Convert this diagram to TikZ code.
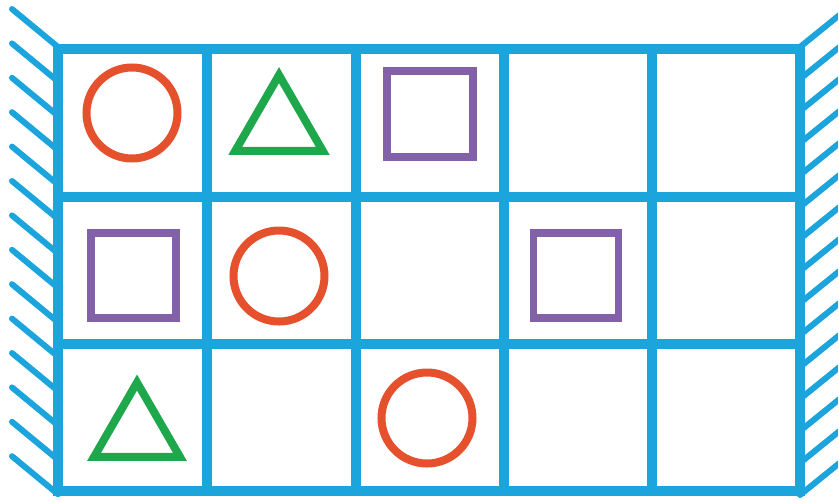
\documentclass[tikz,border=0pt]{standalone}
\usepackage{xcolor}
\usepackage{tikz}
\usetikzlibrary{shapes.geometric}
\definecolor{bleu}{HTML}{1BA5DC}
\definecolor{rouge}{HTML}{E5512C}
\definecolor{vert}{HTML}{1EA84B}
\definecolor{violet}{HTML}{8361A9}
\tikzset{
  grille/.style={draw=bleu, line width=9.5pt},
  hachure/.style={draw=bleu, line width=6pt, line cap=round},
  rond/.style={circle, draw=rouge, line width=8pt, minimum size=91pt,
    inner sep=0pt},
  carre/.style={rectangle, draw=violet, line width=7.5pt, minimum size=86pt,
    inner sep=0pt},
  triangle/.style={regular polygon, regular polygon sides=3, draw=vert,
    line width=8pt, minimum size=101pt, inner sep=0pt}
}
\begin{document}
\begin{tikzpicture}[x=1pt, y=-1pt]
    \useasboundingbox (0,0) rectangle (838,499);
    \clip (0,0) rectangle (838,499);

    % Murs hachures
    \foreach \k in {0,...,13}
      \draw[hachure] (58,{47+34.4*\k}) -- ++(-46,-38);
    \foreach \k in {0,...,14}
      \draw[hachure] (800,{47+32*\k}) -- ++(42,-34);

    % Grille 5 x 3
    \draw[grille] (58,49) rectangle (800,491);
    \foreach \x in {207,356,504,652}
      \draw[grille] (\x,49) -- (\x,491);
    \foreach \y in {197,344}
      \draw[grille] (58,\y) -- (800,\y);

    % Ligne 1
    \node[rond] (rond1) at (132,113) {};
    \node[triangle] (tri1) at (279,125.6) {};
    \node[carre] (carre1) at (430,114) {};

    % Ligne 2
    \node[carre, minimum size=85pt] (carre2) at (133.5,275.5) {};
    \node[rond] (rond2) at (279,276) {};
    \node[carre, minimum size=85pt] (carre3) at (576,275.5) {};

    % Ligne 3
    \node[triangle, minimum size=99pt] (tri2) at (137,432) {};
    \node[rond] (rond3) at (427,418) {};
  \end{tikzpicture}
\end{document}
